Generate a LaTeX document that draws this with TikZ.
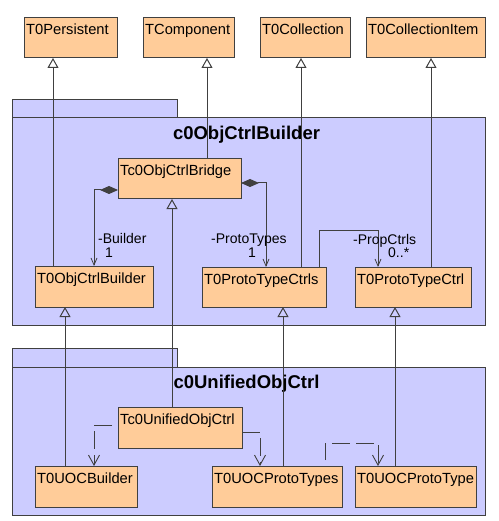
\documentclass[tikz,border=0pt]{standalone}
\usepackage{fontspec}
\setmainfont{Liberation Sans}
\usetikzlibrary{arrows.meta}
\definecolor{lc}{HTML}{404040}
\definecolor{pkgfill}{HTML}{CCCCFF}
\definecolor{clsfill}{HTML}{FFCC99}
\tikzset{
  clsbox/.style={draw=lc, fill=clsfill, line width=1pt, inner sep=0pt, outer sep=0pt, anchor=north west},
  clstext/.style={anchor=base west, inner sep=0pt, font=\fontsize{14.7}{18}\selectfont, text=black},
  pkgbox/.style={draw=lc, fill=pkgfill, line width=1pt, inner sep=0pt, outer sep=0pt, anchor=north west},
  pkgtitle/.style={anchor=base, inner sep=0pt, font=\fontsize{18.5}{22}\selectfont\bfseries},
  rolelbl/.style={anchor=base west, inner sep=0pt, font=\fontsize{14}{16}\selectfont},
  conn/.style={draw=lc, line width=1pt},
  gen/.style={conn, -{Triangle[open, length=10pt, width=11pt, line width=1pt]}},
  comp/.style={conn, {Diamond[fill=lc, length=18pt, width=8pt]}-{Straight Barb[length=7pt, width=6pt, line width=0.8pt]}},
  assoc/.style={conn, -{Straight Barb[length=7pt, width=6pt, line width=0.8pt]}},
  dep/.style={conn, dash pattern=on 18pt off 6pt, -{Straight Barb[length=10pt, width=11pt, line width=0.9pt]}},
}
\newcommand\clsnode[6]{%
  \node[clsbox, minimum width={#4-#2}, minimum height={#5-#3}] (#1) at (#2,#3) {};
  \node[clstext] (#1-t) at ({#2+2},{#3+17}) {#6};}
\newcommand\pkgnode[5]{%
  \node[pkgbox, minimum width={#4-#2}, minimum height={#5-#3}] (#1) at (#2,#3) {};}
\begin{document}
\begin{tikzpicture}[x=1pt,y=-1pt]
\fill[white] (0,0) rectangle (498,521);
\useasboundingbox (0,0) rectangle (498,521);

% packages
\pkgnode{pkgAtab}{12}{100}{177}{118}
\pkgnode{pkgA}{12}{118}{485}{325}
\node[pkgtitle] (pkgAtitle) at (246.5,140) {c0ObjCtrlBuilder};
\pkgnode{pkgBtab}{12}{348}{177}{367}
\pkgnode{pkgB}{12}{367}{485}{515}
\node[pkgtitle] (pkgBtitle) at (246.5,388) {c0UnifiedObjCtrl};

% classes
\clsnode{persist}{24}{18}{117}{58}{T0Persistent}
\clsnode{tcomp}{143}{18}{234}{58}{TComponent}
\clsnode{tcoll}{260}{18}{350}{58}{T0Collection}
\clsnode{tcolli}{366}{18}{485}{58}{T0CollectionItem}
\clsnode{bridge}{118}{159}{241}{199}{Tc0ObjCtrlBridge}
\clsnode{objbuilder}{35}{266}{153}{307}{T0ObjCtrlBuilder}
\clsnode{ptctrls}{202}{267}{326}{307}{T0ProtoTypeCtrls}
\clsnode{ptctrl}{355}{267}{471}{307}{T0ProtoTypeCtrl}
\clsnode{unified}{118}{407}{242}{448}{Tc0UnifiedObjCtrl}
\clsnode{uocb}{35}{466}{137}{507}{T0UOCBuilder}
\clsnode{uocpts}{212}{466}{342}{507}{T0UOCProtoTypes}
\clsnode{uocpt}{355}{466}{476}{507}{T0UOCProtoType}

% helper coordinates
\coordinate (g1) at (53,0);
\coordinate (g2) at (207,0);
\coordinate (g3) at (301,0);
\coordinate (g4) at (431,0);
\coordinate (g5) at (172,0);
\coordinate (g6) at (65,0);
\coordinate (g7) at (283,0);
\coordinate (g8) at (395,0);
\coordinate (c1) at (94,190);
\coordinate (c2) at (266,183);
\coordinate (a1) at (319,230);
\coordinate (a2) at (378,230);
\coordinate (d1) at (94,425);
\coordinate (d2) at (260,432);
\coordinate (d3a) at (325,443);
\coordinate (d3b) at (378,443);

% generalizations
\draw[gen] (objbuilder.north -| g1) -- (persist.south -| g1);
\draw[gen] (bridge.north -| g2) -- (tcomp.south -| g2);
\draw[gen] (ptctrls.north -| g3) -- (tcoll.south -| g3);
\draw[gen] (ptctrl.north -| g4) -- (tcolli.south -| g4);
\draw[gen] (unified.north -| g5) -- (bridge.south -| g5);
\draw[gen] (uocb.north -| g6) -- (objbuilder.south -| g6);
\draw[gen] (uocpts.north -| g7) -- (ptctrls.south -| g7);
\draw[gen] (uocpt.north -| g8) -- (ptctrl.south -| g8);

% compositions
\draw[comp] (bridge.west |- c1) -- (c1) -- (objbuilder.north -| c1);
\draw[comp] (bridge.east |- c2) -- (c2) -- (ptctrls.north -| c2);
% association
\draw[assoc] (ptctrls.north -| a1) -- (a1) -- (a2) -- (ptctrl.north -| a2);

% dependencies
\draw[dep, dash phase=18pt] (unified.west |- d1) -- (d1) -- (uocb.north -| d1);
\draw[dep] (unified.east |- d2) -- (d2) -- (uocpts.north -| d2);
\draw[dep, dash phase=18pt] (uocpts.north -| d3a) -- (d3a) -- (d3b) -- (uocpt.north -| d3b);

% role labels
\node[rolelbl] (lb1) at (98,243) {-Builder};
\node[rolelbl] (lb1m) at (105,257) {1};
\node[rolelbl] (lb2) at (211,243) {-ProtoTypes};
\node[rolelbl] (lb2m) at (248,257) {1};
\node[rolelbl] (lb3) at (353,244) {-PropCtrls};
\node[rolelbl] (lb3m) at (388,257) {0..*};
\end{tikzpicture}
\end{document}
